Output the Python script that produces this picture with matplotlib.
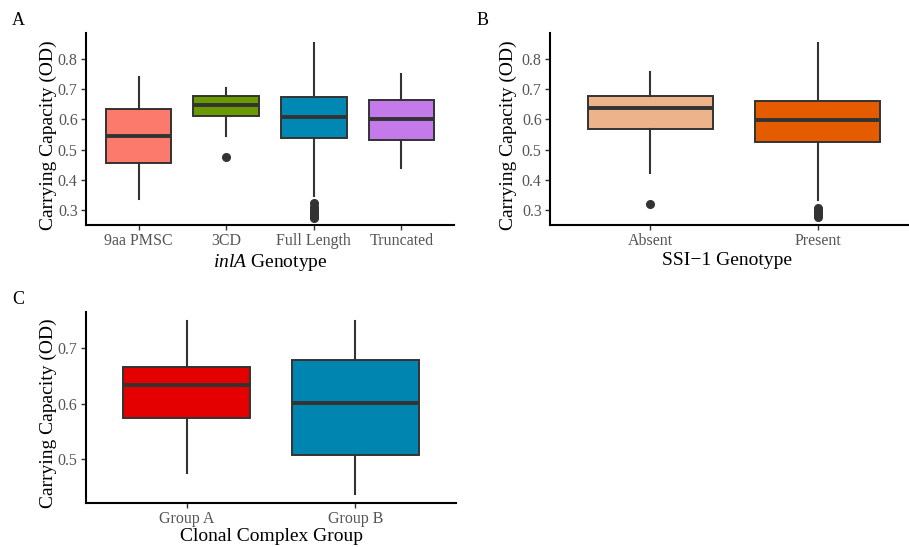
import numpy as np
import matplotlib
matplotlib.use("Agg")
import matplotlib.pyplot as plt

plt.rcParams['font.family'] = ['Liberation Serif', 'DejaVu Serif']
plt.rcParams['mathtext.fontset'] = 'custom'
plt.rcParams['mathtext.it'] = 'Liberation Serif:italic'
plt.rcParams['mathtext.rm'] = 'Liberation Serif'

# Panel A: inlA genotype
cat_a = ['9aa PMSC', '3CD', 'Full Length', 'Truncated']
lo_a = [0.335, 0.545, 0.347, 0.438]
q1_a = [0.455, 0.612, 0.537, 0.531]
med_a = [0.545, 0.647, 0.608, 0.602]
q3_a = [0.634, 0.676, 0.674, 0.665]
hi_a = [0.741, 0.705, 0.854, 0.750]
out_a = [[], [0.475], [0.322, 0.31, 0.30, 0.295, 0.29, 0.285, 0.28, 0.275], []]
col_a = ['#FC7A6C', '#6A9A00', '#0088B5', '#C47AEB']

# Panel B: SSI-1 genotype
cat_b = ['Absent', 'Present']
lo_b = [0.421, 0.333]
q1_b = [0.568, 0.524]
med_b = [0.637, 0.598]
q3_b = [0.677, 0.662]
hi_b = [0.758, 0.854]
out_b = [[0.319], [0.305, 0.298, 0.29, 0.283, 0.276]]
col_b = ['#EDB38A', '#E55C00']

# Panel C: clonal complex group
cat_c = ['Group A', 'Group B']
lo_c = [0.476, 0.4375]
q1_c = [0.574, 0.507]
med_c = [0.634, 0.601]
q3_c = [0.667, 0.679]
hi_c = [0.750, 0.750]
out_c = [[], []]
col_c = ['#E50000', '#0085B0']

W, H = 909, 547
fig = plt.figure(figsize=(W / 100, H / 100), dpi=100)


def px_axes(l, r, b, t):
    return fig.add_axes([l / W, 1 - b / H, (r - l) / W, (b - t) / H])


def boxpanel(ax, cats, lo, q1, med, q3, hi, outs, cols, ylim, yticks, xlab,
             ylab_x, xlab_y, xlab_x=0.5):
    stats = []
    for i in range(len(cats)):
        stats.append(dict(whislo=lo[i], q1=q1[i], med=med[i], q3=q3[i],
                          whishi=hi[i], fliers=outs[i]))
    pos = np.arange(1, len(cats) + 1)
    bp = ax.bxp(stats, positions=pos, widths=0.75, patch_artist=True,
                showcaps=False,
                boxprops=dict(edgecolor='#333333', linewidth=1.4),
                medianprops=dict(color='#333333', linewidth=2.8, solid_capstyle='butt'),
                whiskerprops=dict(color='#333333', linewidth=1.5),
                flierprops=dict(marker='o', markerfacecolor='#333333',
                                markeredgecolor='#333333', markersize=5.5))
    for patch, c in zip(bp['boxes'], cols):
        patch.set_facecolor(c)
    ax.set_xlim(0.4, len(cats) + 0.6)
    ax.set_ylim(*ylim)
    ax.set_yticks(yticks)
    ax.set_yticklabels([f'{v:.1f}' for v in yticks])
    ax.set_xticks(pos)
    ax.set_xticklabels(cats)
    for s in ['top', 'right']:
        ax.spines[s].set_visible(False)
    for s in ['left', 'bottom']:
        ax.spines[s].set_linewidth(1.5)
        ax.spines[s].set_color('black')
    ax.tick_params(axis='both', colors='#333333', labelcolor='#555555',
                   labelsize=11.5, length=3.5, width=1.0, pad=2.5)
    ax.set_ylabel('Carrying Capacity (OD)', fontsize=14, color='black')
    ax.set_xlabel(xlab, fontsize=14, color='black')
    ax.yaxis.set_label_coords(ylab_x, 0.47)
    ax.xaxis.set_label_coords(xlab_x, xlab_y)


ax_a = px_axes(86, 454, 225, 33)
boxpanel(ax_a, cat_a, lo_a, q1_a, med_a, q3_a, hi_a, out_a, col_a,
         (0.2503, 0.886), [0.3, 0.4, 0.5, 0.6, 0.7, 0.8], r'$\it{inlA}$ Genotype',
         -0.080, -0.14)

ax_b = px_axes(550, 918, 225, 33)
boxpanel(ax_b, cat_b, lo_b, q1_b, med_b, q3_b, hi_b, out_b, col_b,
         (0.2503, 0.886), [0.3, 0.4, 0.5, 0.6, 0.7, 0.8], 'SSI\u22121 Genotype',
         -0.090, -0.14, 0.48)

ax_c = px_axes(85.5, 456.5, 502.7, 311.7)
boxpanel(ax_c, cat_c, lo_c, q1_c, med_c, q3_c, hi_c, out_c, col_c,
         (0.4218, 0.766), [0.5, 0.6, 0.7], 'Clonal Complex Group',
         -0.078, -0.133)

fig.text(12 / W, 1 - 12 / H, 'A', fontsize=13, va='top', ha='left')
fig.text(477 / W, 1 - 12 / H, 'B', fontsize=13, va='top', ha='left')
fig.text(12 / W, 1 - 291 / H, 'C', fontsize=13, va='top', ha='left')

fig.savefig('out.png', dpi=100)
